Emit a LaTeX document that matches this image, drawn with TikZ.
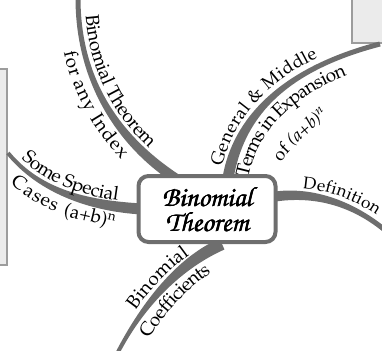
\documentclass[tikz,border=0pt]{standalone}
\usepackage[T1,TU]{fontenc}
\usetikzlibrary{calc,decorations.text}
\definecolor{branchgray}{HTML}{6E6E6E}
\definecolor{boxgray}{HTML}{EBEBEB}
\definecolor{boxedge}{HTML}{9C9C9C}
\newcommand\lblfont{\fontencoding{T1}\fontfamily{ppl}\fontseries{m}\fontshape{n}\fontsize{19}{21}\selectfont}
\newcommand\mdlblfont{\fontencoding{T1}\fontfamily{ppl}\fontseries{m}\fontshape{n}\fontsize{18}{20}\selectfont}
\newcommand\smlblfont{\fontencoding{T1}\fontfamily{ppl}\fontseries{m}\fontshape{n}\fontsize{17}{19}\selectfont}
\newcommand\titlefont{\fontencoding{T1}\fontfamily{pzc}\fontseries{mb}\fontshape{it}\fontsize{28}{32}\selectfont}
\newcommand\fakebold[1]{\rlap{\kern0.6pt#1}\rlap{\kern0.3pt\raisebox{0.4pt}{#1}}#1}
% tapered branch: P0, C1, C2, P3, half width at P0, half width at P3
\newcommand\branch[6]{%
  \path[branchfill]
    ($(#1)!#5!90:(#2)$) .. controls ($(#2)!#5!-90:(#1)$) and ($(#3)!#6!90:(#4)$) .. ($(#4)!#6!-90:(#3)$)
    -- ($(#4)!#6!90:(#3)$) .. controls ($(#3)!#6!-90:(#4)$) and ($(#2)!#5!90:(#1)$) .. ($(#1)!#5!-90:(#2)$)
    -- cycle;}
\tikzset{
  branchfill/.style={fill=branchgray},
  sidebox/.style={draw=boxedge, line width=1.2pt, fill=boxgray},
  centerbox/.style={draw=branchgray, line width=4pt, rounded corners=10pt, fill=white,
    minimum width=137pt, minimum height=66pt},
}
\begin{document}
\begin{tikzpicture}[x=1pt,y=-1pt]
\useasboundingbox (0,0) rectangle (382,350);
% side boxes
\draw[sidebox] (-5,69) rectangle (7,265);
\draw[sidebox] (352,-5) rectangle (388,43);
% branches
\coordinate (b1a) at (78,-2);   \coordinate (b1d) at (175,178);
\coordinate (b2a) at (228,178); \coordinate (b2d) at (380,44);
\coordinate (b3a) at (272,197); \coordinate (b3d) at (386,231);
\coordinate (b4a) at (118,352); \coordinate (b4d) at (222,244);
\coordinate (b5a) at (8,153);   \coordinate (b5d) at (142,209);
\coordinate (ofa) at (280,162); \coordinate (ofd) at (342,108);
\branch{b1a}{78,80}{118,140}{b1d}{2.5pt}{5pt}
\branch{b2a}{238,120}{280,70}{b2d}{5.5pt}{2.5pt}
\branch{b3a}{315,190}{355,205}{b3d}{5pt}{2.5pt}
\branch{b4a}{140,310}{175,265}{b4d}{2pt}{6pt}
\branch{b5a}{40,192}{90,206}{b5d}{2pt}{5.5pt}
% labels along branches
\path[decorate, decoration={text along path, raise=7pt, text align={left indent=18pt},
  text={|\lblfont|Binomial Theorem}}] (b1a) .. controls (78,80) and (118,140) .. (b1d);
\path[decorate, decoration={text along path, raise=-20pt, text align={left indent=50pt},
  text={|\lblfont|for any Index}}] (b1a) .. controls (78,80) and (118,140) .. (b1d);
\path[decorate, decoration={text along path, raise=8pt, text align={left indent=9pt},
  text={|\mdlblfont|General {\&} Middle}}] (b2a) .. controls (238,120) and (280,70) .. (b2d);
\path[decorate, decoration={text along path, raise=-20pt, text align={left indent=5pt},
  text={|\lblfont|Terms in Expansion}}] (b2a) .. controls (238,120) and (280,70) .. (b2d);
\path[decorate, decoration={text along path, text align={left indent=0pt},
  text={|\mdlblfont|of {\itshape (a+b)\textsuperscript{n}}}}] (ofa) .. controls (295,146) and (311,127) .. (ofd);
\path[decorate, decoration={text along path, raise=7pt, text align={left indent=30pt},
  text={|\smlblfont|Definition}}] (b3a) .. controls (315,190) and (355,205) .. (b3d);
\path[decorate, decoration={text along path, raise=7pt, text align={left indent=44pt},
  text={|\lblfont|Binomial}}] (b4a) .. controls (140,310) and (175,265) .. (b4d);
\path[decorate, decoration={text along path, raise=-20pt, text align={left indent=28pt},
  text={|\lblfont|Coefficients}}] (b4a) .. controls (140,310) and (175,265) .. (b4d);
\path[decorate, decoration={text along path, raise=6pt, text align={left indent=14pt},
  text={|\lblfont|Some Special}}] (b5a) .. controls (40,192) and (90,206) .. (b5d);
\path[decorate, decoration={text along path, raise=-20pt, text align={left indent=21pt},
  text={|\lblfont|Cases {(a+b)\textsuperscript{n}}}}] (b5a) .. controls (40,192) and (90,206) .. (b5d);
% central node
\node[centerbox] (bt) at (207,209) {};
\node[align=center, font=\titlefont] (title) at (bt.center) {\fakebold{Binomial}\\[-7pt]\fakebold{Theorem}};
\end{tikzpicture}
\end{document}
